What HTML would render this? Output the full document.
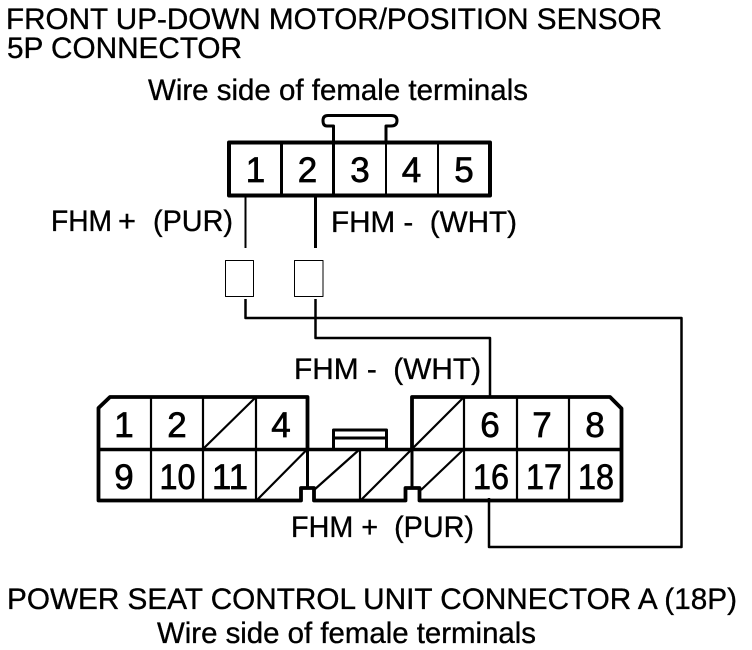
<!DOCTYPE html>
<html>
<head>
<meta charset="utf-8">
<style>
html,body{margin:0;padding:0;background:#fff;width:752px;height:650px;overflow:hidden}
svg{display:block}
text{font-family:"Liberation Sans",Arial,sans-serif;fill:#000;stroke:#000;stroke-width:.35px}
.t{font-size:29.500px}
.d{font-size:35px;text-anchor:middle;stroke-width:.7px}
</style>
</head>
<body>
<svg width="752" height="650" viewBox="0 0 752 650" xmlns="http://www.w3.org/2000/svg">
<text class="t" x="6" y="29" textLength="656" lengthAdjust="spacingAndGlyphs">FRONT UP-DOWN MOTOR/POSITION SENSOR</text>
<text class="t" x="7" y="58" textLength="235" lengthAdjust="spacingAndGlyphs">5P CONNECTOR</text>
<text class="t" x="148" y="100" textLength="380" lengthAdjust="spacingAndGlyphs">Wire side of female terminals</text>

<g fill="none" stroke="#000" stroke-linejoin="round">
<path d="M333.500 141V126H327Q323 126 323 120.500Q323 115.500 328 115.500H391Q397 115.500 397 120.500Q397 126 391 126H386V141" stroke-width="3"/>
<rect x="229" y="142.500" width="261" height="53" stroke-width="4"/>
<path d="M281.500 142V195M333.500 142V195" stroke-width="3"/>
<path d="M386 142V195M438 142V195" stroke-width="2"/>
<path d="M245.500 196V248" stroke-width="2"/>
<path d="M315.500 196V248" stroke-width="3"/>
<rect x="225.500" y="260.500" width="28" height="36" stroke-width="1"/>
<rect x="294.500" y="260.500" width="28.500" height="36" stroke-width="1"/>
<path d="M245.500 299V318H681.500V547H489V498" stroke-width="2.500"/>
<path d="M315.500 299V338H490V397" stroke-width="2.500"/>

<path d="M333.500 449V430H386.500V449M334 438H386" stroke-width="3"/>
<path d="M412 449V397H610L621.500 408.500V500.500H419.500V488H405.500V500.500H314V488H301V500.500H98.500V408L110 397H307.500V449" stroke-width="3.800"/>
<path d="M98.500 449.500H621.500" stroke-width="3.500"/>
<path d="M307.500 449V488M412 449V488" stroke-width="3"/>
<path d="M151 397V501M203 397V501M256 397V501M464 397V501M517 397V501M569 397V501M360 449V501" stroke-width="2.200"/>
<path d="M203 449L256 397M256 501L307.500 449M314 490L360 449M360 501L412 449M421 490L464 449M412 449L464 397" stroke-width="2.200"/>
</g>

<text class="d" x="255.500" y="182">1</text>
<text class="d" x="307.500" y="182">2</text>
<text class="d" x="360" y="182">3</text>
<text class="d" x="411.500" y="182">4</text>
<text class="d" x="464" y="182">5</text>

<text class="t" x="51" y="231" textLength="61" lengthAdjust="spacingAndGlyphs">FHM</text>
<text class="t" x="118" y="231" textLength="18" lengthAdjust="spacingAndGlyphs">+</text>
<text class="t" x="153" y="231" textLength="80" lengthAdjust="spacingAndGlyphs">(PUR)</text>
<text class="t" x="331" y="232" textLength="186" lengthAdjust="spacingAndGlyphs">FHM -&#160;&#160;(WHT)</text>
<text class="t" x="294" y="379" textLength="187" lengthAdjust="spacingAndGlyphs">FHM -&#160;&#160;(WHT)</text>
<text class="t" x="291" y="537" textLength="183" lengthAdjust="spacingAndGlyphs">FHM +&#160;&#160;(PUR)</text>

<text class="d" x="124" y="437">1</text>
<text class="d" x="177" y="437">2</text>
<text class="d" x="281" y="437">4</text>
<text class="d" x="490" y="437">6</text>
<text class="d" x="542" y="437">7</text>
<text class="d" x="595" y="437">8</text>
<text class="d" x="124" y="489">9</text>
<text class="d" x="177.500" y="489" textLength="36" lengthAdjust="spacingAndGlyphs">10</text>
<text class="d" x="230" y="489" textLength="36" lengthAdjust="spacingAndGlyphs">11</text>
<text class="d" x="491" y="489" textLength="36" lengthAdjust="spacingAndGlyphs">16</text>
<text class="d" x="544" y="489" textLength="36" lengthAdjust="spacingAndGlyphs">17</text>
<text class="d" x="596" y="489" textLength="36" lengthAdjust="spacingAndGlyphs">18</text>

<text class="t" x="7" y="609" textLength="730" lengthAdjust="spacingAndGlyphs">POWER SEAT CONTROL UNIT CONNECTOR A (18P)</text>
<text class="t" x="157" y="643" textLength="379" lengthAdjust="spacingAndGlyphs">Wire side of female terminals</text>
</svg>
</body>
</html>
